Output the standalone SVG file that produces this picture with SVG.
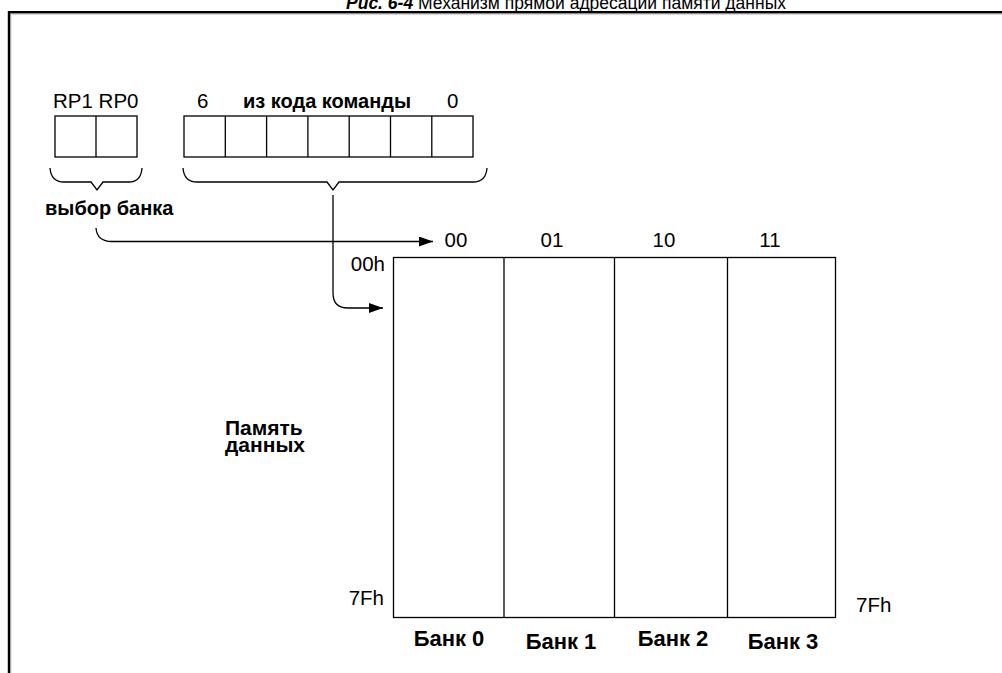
<svg xmlns="http://www.w3.org/2000/svg" width="1002" height="673" viewBox="0 0 1002 673">
<defs>
<style>
text{font-family:"Liberation Sans",Arial,sans-serif;fill:#000}
.t{font-size:20.5px}
.b{font-size:20px;font-weight:bold}
.bk{font-size:22px;font-weight:bold}
.box{fill:#fff;stroke:#000;stroke-width:1.3}
.ln{fill:none;stroke:#000;stroke-width:1.3}
</style>
<marker id="ah" viewBox="0 0 14 10" refX="14" refY="5" markerWidth="14" markerHeight="10" markerUnits="userSpaceOnUse" orient="auto">
<path d="M0,0 L14,5 L0,10 Z" fill="#000"/>
</marker>
</defs>
<rect width="1002" height="673" fill="#fff"/>
<g id="title">
<text x="566" y="8.5" text-anchor="middle" style="font-size:17.5px"><tspan font-weight="bold" font-style="italic">Рис. 6-4</tspan> Механизм прямой адресации памяти данных</text>
</g>
<g id="frame">
<polyline points="9,673 9,12.2 1002,12.2" fill="none" stroke="#000" stroke-width="2.4"/>
<polyline points="10.7,673 10.7,13.9 1002,13.9" fill="none" stroke="#999" stroke-width="1"/>
</g>
<g id="rp-register">
<text class="t" x="53" y="108">RP1 RP0</text>
<rect class="box" x="55" y="116" width="82" height="41"/>
<line class="ln" x1="96" y1="116" x2="96" y2="157"/>
</g>
<g id="opcode-register">
<text class="t" x="197" y="108">6</text>
<text class="b" x="243" y="108">из кода команды</text>
<text class="t" x="447" y="108">0</text>
<rect class="box" x="184" y="116" width="289" height="41"/>
<line class="ln" x1="225.3" y1="116" x2="225.3" y2="157"/>
<line class="ln" x1="266.6" y1="116" x2="266.6" y2="157"/>
<line class="ln" x1="307.9" y1="116" x2="307.9" y2="157"/>
<line class="ln" x1="349.2" y1="116" x2="349.2" y2="157"/>
<line class="ln" x1="390.5" y1="116" x2="390.5" y2="157"/>
<line class="ln" x1="431.8" y1="116" x2="431.8" y2="157"/>
</g>
<g id="bank-select">
<path class="ln" d="M50,168 Q51,182 64,182 L91,182 L97,190 L103,182 L129,182 Q141,182 142,168"/>
<text class="b" x="45" y="215">выбор банка</text>
</g>
<g id="opcode-brace">
<path class="ln" d="M183,168 Q184,182 197,182 L327,182 L333,190 L339,182 L473,182 Q486,182 487,168"/>
</g>
<g id="data-memory">
<rect class="box" x="393.5" y="257.5" width="442" height="360"/>
<line class="ln" x1="504" y1="257.5" x2="504" y2="617.5"/>
<line class="ln" x1="614.5" y1="257.5" x2="614.5" y2="617.5"/>
<line class="ln" x1="727.5" y1="257.5" x2="727.5" y2="617.5"/>
<text class="t" x="456" y="247" text-anchor="middle">00</text>
<text class="t" x="552" y="247" text-anchor="middle">01</text>
<text class="t" x="664" y="247" text-anchor="middle">10</text>
<text class="t" x="770" y="247" text-anchor="middle">11</text>
<text class="t" x="385" y="271" text-anchor="end">00h</text>
<text class="t" x="384" y="605" text-anchor="end">7Fh</text>
<text class="t" x="856" y="612">7Fh</text>
<text class="bk" x="449" y="646" text-anchor="middle">Банк 0</text>
<text class="bk" x="561" y="649" text-anchor="middle">Банк 1</text>
<text class="bk" x="673" y="646" text-anchor="middle">Банк 2</text>
<text class="bk" x="783" y="649" text-anchor="middle">Банк 3</text>
<text class="b" x="225" y="435" style="font-size:21px">Память</text>
<text class="b" x="225" y="451.5" style="font-size:21px">данных</text>
</g>
<g id="connectors">
<path class="ln" d="M96,228 Q97,241.5 112,241.5 L433,241.5" marker-end="url(#ah)"/>
<path class="ln" d="M333,195 L333,293 Q333,308 348,308 L383,308" marker-end="url(#ah)"/>
</g>
</svg>
